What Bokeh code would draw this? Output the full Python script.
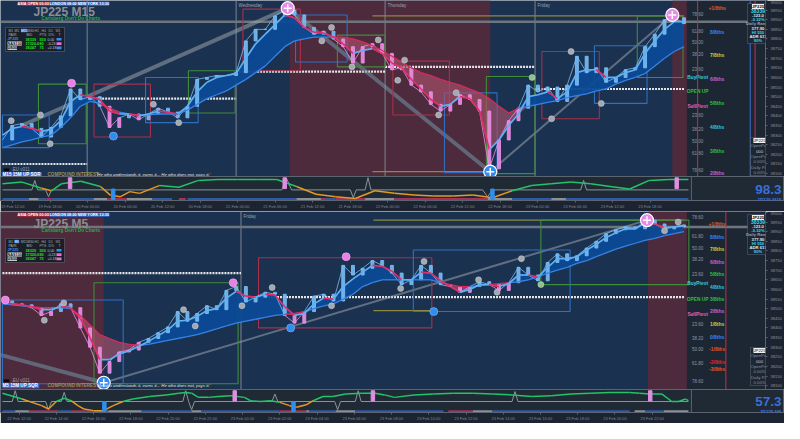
import numpy as np
from bokeh.plotting import figure
from bokeh.models import (Range1d, BoxAnnotation, Label, Span, FixedTicker,
                          SingleIntervalTicker, NumeralTickFormatter)
from bokeh.layouts import column
from bokeh.embed import file_html
from bokeh.resources import INLINE
from bokeh.core.properties import value

# ======================= DATA =======================
bars = list(range(71))

# ---- JP225 M15 (top panel) ----
top_close = [38275, 38350, 38360, 38335, 38290, 38340, 38400, 38540, 38485, 38500,
             38450, 38340, 38390, 38410, 38380, 38410, 38440, 38420, 38390, 38450,
             38590, 38600, 38610, 38610, 38625, 38790, 38850, 38850, 38920, 38950,
             38925, 38860, 38825, 38840, 38800, 38760, 38675, 38760, 38775, 38725,
             38640, 38650, 38560, 38525, 38460, 38425, 38460, 38510, 38485, 38425,
             38125, 38275, 38375, 38440, 38560, 38525, 38550, 38475, 38560, 38710,
             38625, 38650, 38575, 38600, 38640, 38650, 38760, 38825, 38900, 38910,
             38880]
top_fast = [38300, 38335, 38345, 38335, 38320, 38330, 38375, 38475, 38510, 38500,
            38485, 38425, 38410, 38410, 38400, 38410, 38425, 38420, 38410, 38450,
            38525, 38575, 38600, 38610, 38620, 38700, 38775, 38825, 38875, 38925,
            38910, 38860, 38835, 38830, 38810, 38775, 38725, 38740, 38750, 38725,
            38675, 38650, 38590, 38540, 38485, 38450, 38460, 38500, 38490, 38425,
            38225, 38275, 38350, 38410, 38500, 38510, 38525, 38490, 38525, 38625,
            38640, 38640, 38600, 38600, 38625, 38640, 38725, 38790, 38850, 38890,
            38890]
top_slow = [38235, 38250, 38265, 38275, 38290, 38300, 38340, 38390, 38450, 38475,
            38465, 38440, 38420, 38410, 38405, 38405, 38410, 38410, 38410, 38430,
            38460, 38490, 38510, 38530, 38560, 38590, 38625, 38660, 38710, 38760,
            38790, 38800, 38810, 38810, 38810, 38810, 38800, 38785, 38765, 38740,
            38710, 38680, 38650, 38625, 38610, 38590, 38575, 38560, 38540, 38520,
            38490, 38450, 38415, 38440, 38450, 38460, 38470, 38480, 38495, 38505,
            38515, 38530, 38540, 38565, 38585, 38600, 38620, 38660, 38700, 38735,
            38760]
top_sessions = [(29.5, 50.1), (68.8, 70.3)]
top_day_sep = [8.7, 24.0, 39.3, 54.7]
top_day_names = ["", "Wednesday", "Thursday", "Friday"]
top_pivot_x0 = [0.0, 8.7, 24.0, 39.3, 54.7]
top_pivot_x1 = [8.7, 24.0, 39.3, 54.7, 70.0]
top_pivot_y = [38150, 38490, 38630, 38655, 38540]
top_box_l = [0.0, 3.7, 9.4, 14.7, 19.1, 24.7, 30.1, 34.4, 40.1, 45.4, 49.7, 55.4, 60.8, 65.2]
top_box_r = [4.8, 8.6, 15.2, 20.1, 23.9, 30.6, 35.4, 39.3, 45.9, 50.8, 54.7, 61.3, 66.2, 69.9]
top_box_t = [38405, 38565, 38565, 38600, 38635, 38955, 38925, 38820, 38685, 38520, 38605, 38735, 38765, 38920]
top_box_b = [38235, 38255, 38290, 38365, 38415, 38635, 38680, 38655, 38405, 38105, 38100, 38385, 38465, 38600]
top_box_k = ["b", "g", "r", "b", "g", "r", "b", "g", "r", "b", "g", "r", "b", "g"]
top_tl_x0 = [2.0, 29.3, 50.1]
top_tl_y0 = [38350, 38960, 38110]
top_tl_x1 = [29.3, 50.1, 68.8]
top_tl_y1 = [38960, 38110, 38925]
top_olive_x0 = [38.0, 38.0]
top_olive_x1 = [70.0, 50.0]
top_olive_y = [38920, 38110]
top_price_line = 38890
top_piv_x = [0.9, 3.9, 4.9, 15.5, 18.1, 32.8, 33.8, 35.9, 38.6, 40.6, 41.3, 44.8, 46.6, 56.4, 58.4, 61.5]
top_piv_y = [38375, 38405, 38255, 38460, 38365, 38790, 38860, 38655, 38795, 38585, 38690, 38405, 38520, 38385, 38735, 38465]
top_pink_x = [7.1]
top_pink_y = [38570]
top_blue_x = [11.4]
top_blue_y = [38295]
top_green_x = [54.4]
top_green_y = [38600]
top_bigpink_x = [29.3, 68.8]
top_bigpink_y = [38960, 38925]
top_bigblue_x = [50.1]
top_bigblue_y = [38110]
top_fib_y = [38930, 38840, 38785, 38720, 38645, 38405, 38330, 38270, 38205, 38120]
top_fib_txt = ["78.60", "61.80", "50.00", "38.20", "23.60", "23.60", "38.20", "50.00", "61.80", "78.60"]
top_mm_y = [38960, 38835, 38715, 38590, 38465, 38340, 38215, 38102]
top_mm_txt = ["+1/8ths", "8/8ths", "7/8ths", "6/8ths", "5/8ths", "4/8ths", "3/8ths", "2/8ths"]
top_pv_y = [38600, 38525, 38450]
pv_txt = ["BuyPivot", "OPEN UP", "SellPivot"]

# ---- JP225 M5 (bottom panel) ----
bot_close = [38540, 38525, 38520, 38505, 38465, 38485, 38525, 38505, 38400, 38300,
             38165, 38225, 38275, 38285, 38325, 38345, 38375, 38405, 38485, 38435,
             38475, 38515, 38495, 38595, 38615, 38535, 38560, 38585, 38575, 38465,
             38425, 38485, 38565, 38575, 38540, 38725, 38675, 38710, 38750, 38725,
             38685, 38625, 38650, 38725, 38685, 38625, 38615, 38585, 38615, 38640,
             38625, 38595, 38635, 38715, 38675, 38645, 38740, 38785, 38750, 38775,
             38815, 38850, 38890, 38910, 38925, 38915, 38960, 38940, 38915, 38925,
             38935]
bot_fast = [38535, 38525, 38520, 38510, 38495, 38495, 38510, 38505, 38450, 38350,
            38235, 38235, 38265, 38280, 38305, 38330, 38360, 38390, 38435, 38440,
            38460, 38490, 38500, 38555, 38590, 38565, 38560, 38575, 38570, 38510,
            38465, 38475, 38525, 38555, 38550, 38615, 38655, 38690, 38725, 38720,
            38695, 38650, 38650, 38690, 38685, 38645, 38615, 38585, 38600, 38625,
            38625, 38615, 38630, 38675, 38675, 38665, 38715, 38760, 38760, 38770,
            38805, 38835, 38870, 38895, 38915, 38915, 38945, 38940, 38920, 38925,
            38930]
bot_slow = [38525, 38520, 38515, 38510, 38505, 38505, 38505, 38500, 38465, 38415,
            38365, 38345, 38325, 38315, 38310, 38315, 38325, 38335, 38345, 38355,
            38365, 38380, 38395, 38410, 38425, 38435, 38445, 38455, 38465, 38470,
            38475, 38485, 38500, 38515, 38525, 38550, 38575, 38615, 38635, 38650,
            38650, 38650, 38650, 38650, 38650, 38635, 38625, 38615, 38615, 38620,
            38625, 38630, 38635, 38640, 38650, 38665, 38685, 38700, 38715, 38735,
            38750, 38770, 38790, 38810, 38825, 38840, 38855, 38865, 38880, 38890,
            38900]
bot_sessions = [(-0.2, 10.4), (66.3, 70.3)]
bot_day_sep = [24.5]
bot_day_names = ["Friday"]
bot_pivot_x0 = [0.0, 24.5]
bot_pivot_x1 = [24.5, 70.0]
bot_pivot_y = [38685, 38560]
bot_box_l = [0.0, 9.4, 26.3, 42.2, 55.3]
bot_box_r = [12.4, 24.2, 44.1, 58.3, 70.5]
bot_box_t = [38545, 38635, 38765, 38805, 38960]
bot_box_b = [38110, 38110, 38400, 38485, 38625]
bot_box_k = ["b", "g", "r", "b", "g"]
bot_tl_x0 = [-0.2, 10.4]
bot_tl_y0 = [38260, 38115]
bot_tl_x1 = [10.4, 66.2]
bot_tl_y1 = [38115, 38960]
bot_olive_x0 = [38.1, 38.1]
bot_olive_x1 = [70.0, 44.2]
bot_olive_y = [38960, 38490]
bot_price_line = 38925
bot_piv_x = [4.3, 6.3, 18.6, 19.8, 24.6, 27.7, 33.8, 40.9, 43.3, 48.9, 50.8, 53.3, 68.0, 69.4]
bot_piv_y = [38440, 38530, 38495, 38410, 38515, 38610, 38515, 38605, 38745, 38650, 38585, 38760, 38905, 38950]
bot_pink_x = [0.3, 23.7, 35.3]
bot_pink_y = [38545, 38635, 38770]
bot_blue_x = [29.6, 44.3]
bot_blue_y = [38400, 38485]
bot_green_x = [55.3]
bot_green_y = [38625]
bot_bigpink_x = [66.2]
bot_bigpink_y = [38960]
bot_bigblue_x = [10.4]
bot_bigblue_y = [38115]
bot_fib_y = [38975, 38880, 38815, 38760, 38680, 38420, 38350, 38290, 38220, 38125]
bot_fib_txt = ["78.60", "61.80", "50.00", "38.20", "23.60", "23.60", "38.20", "50.00", "61.80", "78.60"]
bot_mm_y = [38940, 38870, 38810, 38740, 38680, 38615, 38550, 38490, 38420, 38355, 38290, 38225, 38185]
bot_mm_txt = ["+1/8ths", "8/8ths", "7/8ths", "6/8ths", "5/8ths", "4/8ths", "3/8ths",
              "2/8ths", "1/8ths", "0/8ths", "-1/8ths", "-2/8ths", "-3/8ths"]
bot_pv_y = [38630, 38550, 38470]

# ---- oscillators ----
top_osc_x = [0, 2, 4, 5, 6, 8, 10, 11, 12, 13, 14, 16, 18, 20, 22, 24, 26, 28, 30, 32,
             34, 36, 38, 40, 42, 44, 46, 48, 50, 52, 54, 56, 58, 60, 62, 64, 66, 68, 70]
top_osc_v = [72, 80, 52, 40, 72, 84, 60, 20, 12, 36, 28, 64, 56, 88, 92, 92, 92, 92, 60, 24,
             12, 4, 40, 28, 20, 16, 16, 20, 8, 40, 64, 72, 80, 72, 60, 48, 88, 92, 92]
top_sig_x = [0, 3.0, 3.3, 3.6, 4.4, 4.7, 5.0, 28.5, 29.0, 29.5, 35.5, 35.8, 36.1, 37.0,
             37.3, 37.6, 49.0, 49.5, 50.0, 59.0, 59.3, 59.6, 70.0]
top_sig_v = [44, 44, 88, 44, 44, 12, 44, 44, 96, 44, 44, 8, 44, 44, 100, 44, 44, 12, 44,
             44, 88, 44, 44]
top_spk_pink_x = [6.9, 28.8, 68.8]
top_spk_blue_x = [11.3, 50.0]
top_trend = [(0, 2.7, "b"), (2.7, 3.7, "g"), (3.7, 4.5, "b"), (4.5, 5.0, "r"), (5.0, 9.3, "b"),
             (9.3, 10.7, "g"), (10.7, 12.7, "r"), (12.7, 15.3, "g"), (15.3, 17.3, "b"),
             (18.0, 18.7, "r"), (18.9, 30.0, "b"), (30.0, 32.5, "g"), (32.5, 33.0, "r"),
             (33.0, 34.0, "b"), (34.0, 37.0, "r"), (37.0, 40.0, "g"), (40.0, 49.5, "r"),
             (49.5, 52.0, "g"), (52.0, 56.0, "b"), (56.0, 57.5, "g"), (57.5, 70.0, "b")]
top_big_value = "98.3"

bot_osc_x = [0, 2.0, 4.0, 4.7, 5.5, 6.3, 7.0, 7.7, 8.3, 9.3, 10.3, 11.3, 12.3, 13.3, 15.0,
             16.7, 18.0, 18.7, 19.3, 20.0, 21.0, 22.0, 23.3, 24.7, 25.3, 26.3, 27.3, 28.3,
             29.3, 30.0, 31.0, 31.7, 32.7, 33.7, 35.0, 36.7, 38.0, 39.0, 40.0, 42.0, 44.0,
             46.0, 48.0, 50.0, 52.0, 54.0, 56.0, 58.0, 60.0, 62.0, 64.0, 65.0, 66.0, 67.3,
             68.3, 69.0, 69.7, 70.0]
bot_osc_v = [88, 60, 28, 12, 48, 64, 52, 28, 12, 4, 4, 28, 48, 60, 72, 80, 88, 92, 88, 68,
             68, 72, 76, 68, 52, 48, 52, 44, 28, 20, 32, 52, 72, 72, 84, 88, 88, 80, 68, 80,
             84, 88, 88, 84, 80, 72, 76, 84, 88, 92, 92, 88, 84, 84, 48, 48, 60, 52]
bot_sig_x = [0, 1.0, 1.3, 1.6, 4.4, 4.7, 5.0, 6.0, 6.3, 6.6, 18.4, 18.7, 19.0, 19.3, 19.6,
             27.5, 27.8, 28.1, 33.9, 34.2, 34.5, 36.0, 36.3, 36.6, 52.0, 52.3, 52.6, 70.0]
bot_sig_v = [48, 48, 100, 48, 48, 8, 48, 48, 92, 48, 48, 100, 48, 8, 48, 48, 84, 48, 48, 8,
             48, 48, 100, 48, 48, 96, 48, 48]
bot_spk_pink_x = [23.7, 37.8, 66.1]
bot_spk_blue_x = [10.4, 29.7]
bot_trend = [(0, 1.3, "b"), (1.3, 2.7, "g"), (2.7, 5.7, "r"), (5.7, 7.0, "b"), (7.0, 10.8, "r"),
             (10.8, 14.2, "g"), (14.2, 19.3, "b"), (19.3, 20.3, "g"), (20.3, 28.3, "b"),
             (28.3, 31.0, "r"), (31.0, 31.3, "g"), (31.3, 34.0, "b"), (34.0, 36.0, "g"),
             (36.0, 45.0, "b"), (45.5, 48.0, "r"), (48.0, 50.0, "g"), (50.0, 64.0, "b"),
             (64.5, 65.6, "g"), (65.6, 67.5, "b"), (67.5, 70.0, "g")]
bot_big_value = "57.3"

# ---- dashboards ----
tf_names = ["M1", "M5", "M15", "M30", "H1", "H4", "D1", "W1"]
tbl_head = ["PAIR", "BID", "PTS", "D%", "T"]
tbl_pairs = ["JP225", "NAS100", "US30"]
tbl_bid = ["38339", "17320.0", "38247"]
tbl_pts = ["550", "80", "75"]
tbl_pct = ["0.00", "-0.23", "+0.18"]
top_tbl_bar = ["#2e8ff0", "#e46fd8", "#2e8ff0"]
bot_tbl_bar = ["#2e8ff0", "#e46fd8", "#e46fd8"]
sessions_txt = ["ASIA OPEN 00:00", "LONDON 08:00", "NEW YORK 13:30"]
info_lines = ["JP225", "38339", "-123.0", "-0.32%", "Daily Range", "377.90", "HI 550", "ADR 611", "90%"]
pos_lines = ["JP225", "OpenPos", "000", "OpenPos", "0.00%", "Daily P/L", "0.00%"]
top_days = ["19 Feb", "20 Feb", "21 Feb", "22 Feb", "23 Feb"]
bot_days = ["22 Feb", "23 Feb"]

# ======================= STYLE =======================
W = 784
BG = "#1a3150"
RED_BG = "#4e2a3d"
STRIP = "#1d2734"
AXIS_BG = "#1b2430"
OSC_BG = "#1f2a35"
UPFILL = "#0b4a95"
DNFILL = "#a2506a"
FAST_UP = "#5fb0f5"
FAST_DN = "#e0306a"
SLOW_UP = "#3683e6"
SLOW_DN = "#d42a5e"
CAN_UP = "#78bdf5"
CAN_DN = "#ea90e4"
BOXC = {"b": "#2f6fc2", "g": "#3f8c3a", "r": "#a8304a"}
TRC = {"b": "#2c5aa8", "g": "#8b8f96", "r": "#a8305a"}
MMC = {"+1/8ths": "#e8552a", "8/8ths": "#3a86e8", "7/8ths": "#d8c838", "6/8ths": "#d060c8",
       "5/8ths": "#30c040", "4/8ths": "#30c8d8", "3/8ths": "#30c040", "2/8ths": "#d060c8",
       "1/8ths": "#d8c838", "0/8ths": "#3a86e8", "-1/8ths": "#e8552a", "-2/8ths": "#e02828",
       "-3/8ths": "#e8552a"}
PVC = ["#38d0d8", "#30c030", "#e060c0"]
FONT = "Liberation Sans"


def lab(p, x, y, text, size=5, color="#c8ccd0", style="normal", align="left",
        baseline="middle", bg=None, xu="screen", font=FONT):
    kw = dict(x=x, y=y, x_units=xu, y_units="screen", text=text, text_font=font,
              text_font_size=f"{size}px", text_color=color, text_font_style=style,
              text_align=align, text_baseline=baseline)
    if bg is not None:
        kw["background_fill_color"] = bg
        kw["background_fill_alpha"] = 1.0
    p.add_layout(Label(**kw))


def sbox(p, l, r, t, b, fill, line="#8a929c", alpha=1.0):
    p.add_layout(BoxAnnotation(left=l, right=r, top=t, bottom=b, left_units="screen",
                               right_units="screen", top_units="screen", bottom_units="screen",
                               fill_color=fill, fill_alpha=alpha, line_color=line, line_width=1))


def make_main(h, ylo, yhi):
    p = figure(width=W, height=h, x_range=Range1d(-0.2, 78.37), y_range=Range1d(ylo, yhi),
               output_backend="svg", toolbar_location=None, x_axis_location=None,
               y_axis_location="right", min_border_left=0, min_border_top=0,
               min_border_bottom=0, min_border_right=14)
    p.frame_align = False
    p.background_fill_color = BG
    p.border_fill_color = AXIS_BG
    p.outline_line_color = None
    p.grid.visible = False
    ax = p.yaxis[0]
    ax.ticker = SingleIntervalTicker(interval=50)
    ax.formatter = NumeralTickFormatter(format="0")
    ax.major_label_text_font_size = "4px"
    ax.major_label_text_color = "#8d96a0"
    ax.axis_line_color = "#5b6470"
    ax.major_tick_line_color = "#5b6470"
    ax.major_tick_out = 2
    ax.major_tick_in = 0
    ax.minor_tick_line_color = None
    ax.major_label_standoff = 1
    return p


def draw_main(p, close, fast, slow, sessions, day_sep, day_names, pv_x0, pv_x1, pv_y,
              bl, br, bt, bb, bk, tl, olive, price_line, dots, fib_y, fib_txt, mm_y, mm_txt,
              pvl_y, vlines, htop):
    x = np.array(bars, dtype=float)
    c = np.array(close, dtype=float)
    f = np.array(fast, dtype=float)
    s = np.array(slow, dtype=float)
    up = f >= s
    for (l, r) in sessions:
        p.add_layout(BoxAnnotation(left=l, right=r, fill_color=RED_BG, fill_alpha=1,
                                   line_color=None, level="underlay"))
    p.add_layout(BoxAnnotation(left=70.3, fill_color=STRIP, fill_alpha=1, line_color=None,
                               level="underlay"))
    for d, name in zip(day_sep, day_names):
        p.add_layout(Span(location=d, dimension="height", line_color="#7d858e",
                          line_width=1, level="underlay"))
        if name:
            lab(p, d + 0.25, htop - 2, name, size=4.5, color="#9aa2ab", baseline="top", xu="data")
    for xv, col in vlines:
        p.add_layout(Span(location=xv, dimension="height", line_color=col, line_width=1))
    p.segment(x0=[-0.2], y0=[price_line], x1=[78.4], y1=[price_line],
              line_color="#6f757c", line_width=2.5)
    p.segment(x0=olive[0], y0=olive[2], x1=olive[1], y1=olive[2], line_color="#8c8a3e",
              line_width=1.2)
    p.segment(x0=pv_x0, y0=pv_y, x1=pv_x1, y1=pv_y, line_color="#e6e6e6", line_width=2.2,
              line_dash="2 1")
    p.segment(x0=tl[0], y0=tl[1], x1=tl[2], y1=tl[3], line_color=tl[4], line_width=tl[5],
              line_alpha=0.55)
    p.quad(left=bl, right=br, top=bt, bottom=bb, fill_color=None,
           line_color=[BOXC[k] for k in bk], line_width=1.1)
    p.varea(x=x, y1=s, y2=np.maximum(f, s), fill_color=UPFILL, fill_alpha=0.95)
    p.varea(x=x, y1=np.minimum(f, s), y2=s, fill_color=DNFILL, fill_alpha=0.7)
    o = c[:-1]
    cl = c[1:]
    ccol = [CAN_UP if up[i] else CAN_DN for i in range(1, len(c))]
    p.segment(x0=x[:-1], y0=c[:-1], x1=x[1:], y1=c[1:], line_color=ccol, line_width=1,
              line_alpha=0.8)
    p.vbar(x=x[1:], top=np.maximum(o, cl), bottom=np.minimum(o, cl), width=0.3,
           fill_color=ccol, line_color=ccol, fill_alpha=0.9, line_alpha=0.9)
    p.segment(x0=x[:-1], y0=s[:-1], x1=x[1:], y1=s[1:], line_width=1.3,
              line_color=[SLOW_UP if up[i + 1] else SLOW_DN for i in range(len(s) - 1)])
    p.segment(x0=x[:-1], y0=f[:-1], x1=x[1:], y1=f[1:], line_width=1.7,
              line_color=[FAST_UP if f[i + 1] >= f[i] else FAST_DN for i in range(len(f) - 1)])
    gx, gy, pkx, pky, blx, bly, grx, gry, bpx, bpy, bbx, bby = dots
    p.scatter(gx, gy, size=6, fill_color="#a3a9b0", line_color="#d0d4d8", line_width=0.5)
    p.scatter(grx, gry, size=6, fill_color="#8fc08f", line_color="#c8e0c8", line_width=0.5)
    p.scatter(pkx, pky, size=8, fill_color="#ea80e6", line_color="#f4c0f0", line_width=0.5)
    p.scatter(blx, bly, size=8, fill_color="#2f8cf0", line_color="#9cc8f8", line_width=0.5)
    p.scatter(bpx, bpy, size=13, fill_color="#e88ae8", line_color="white", line_width=1.2)
    p.scatter(bpx, bpy, size=8, marker="cross", line_color="white", line_width=1.5)
    p.scatter(bbx, bby, size=13, fill_color="#2f8cf0", line_color="white", line_width=1.2)
    p.scatter(bbx, bby, size=8, marker="cross", line_color="white", line_width=1.5)
    p.text(x=[71.4] * len(fib_y), y=fib_y, text=fib_txt,
           text_font=value(FONT), text_font_size="4.5px", text_color="#9098a2",
           text_align="center", text_baseline="middle")
    p.text(x=[73.4] * len(mm_y), y=mm_y, text=mm_txt, text_font=value(FONT),
           text_font_size="5px", text_color=[MMC[t] for t in mm_txt], text_font_style="bold",
           text_align="center", text_baseline="middle")
    p.text(x=[71.4] * 3, y=pvl_y, text=pv_txt, text_font=value(FONT), text_font_size="4.8px",
           text_color=PVC, text_font_style="bold", text_align="center", text_baseline="middle")


def header(p, htop, title, tf_index, bar_cols, drop=0.0):
    bx = [17, 49, 77]
    bcol = ["#a82838", "#2a6ad0", "#2a6ad0"]
    for x0, t, col in zip(bx, sessions_txt, bcol):
        lab(p, x0, htop - 3.3, t, size=3.8, color="white", style="bold", bg=col)
    lab(p, 33, htop - 11.0 - drop, title, size=12, color="#8a8e94", style="bold",
        baseline="middle")
    lab(p, 41, htop - 18.0 - drop, "Carlsberg Don't Do Charts", size=4.7, color="#27b043",
        style="bold", baseline="middle")
    tt = htop - 27
    sbox(p, 5, 64, tt, tt - 24, "#1a1f27", line="#9aa0a8")
    tfx = [8, 14, 20.5, 27, 34, 41, 48, 55]
    for i, (xx, t) in enumerate(zip(tfx, tf_names)):
        lab(p, xx, tt - 3, t, size=3.3, color="white" if i == tf_index else "#aab0b8",
            bg="#2a6ad0" if i == tf_index else None)
    hx = [8, 26, 39, 48, 58]
    for xx, t in zip(hx, tbl_head):
        lab(p, xx, tt - 7.2, t, size=3.5, color="#aab0b8")
    pair_bg = [None, "#e8e8e8", "#c8c8c8"]
    pair_col = ["#3a8ee8", "#101010", "#101010"]
    for r in range(3):
        yy = tt - 11.8 - r * 4.3
        lab(p, 7, yy, tbl_pairs[r], size=3.8, color=pair_col[r], style="bold", bg=pair_bg[r])
        lab(p, 25, yy, tbl_bid[r], size=3.8, color="#22e022", style="bold")
        lab(p, 39, yy, tbl_pts[r], size=3.8, color="#22e022", style="bold")
        lab(p, 47, yy, tbl_pct[r], size=3.5, color="#c0c4c8")
        sbox(p, 56, 61, yy + 1.3, yy - 1.3, bar_cols[r], line=None)


def footer(p, yb, tflabel):
    sbox(p, 3, 9, yb + 8.2, yb + 5.2, "#050505", line="#444")
    lab(p, 11, yb + 6.7, ".EU v011", size=4.5, color="#9aa2ab")
    lab(p, 2, yb + 1.8, tflabel + "  15M UP SQR", size=4.6, color="white", style="bold",
        bg="#3569d4")
    lab(p, 47, yb + 1.8, "COMPOUND INTEREST", size=4.6, color="#9a9050", style="bold")
    lab(p, 96, yb + 1.8, "'He who understands it, earns it... He who does not, pays it.'",
        size=4.3, color="#e8e8e8", style="italic")


def right_boxes(p, top1, top2):
    sbox(p, 747, 768, top1, top1 - 40, "#1d2633")
    cols = ["#101010", "#38d8f0", "#e8e8e8", "#38d8f0", "#9aa2ab", "#e8e8e8", "#38d8f0",
            "#e8e8e8", "#38d8f0"]
    for i, (t, col) in enumerate(zip(info_lines, cols)):
        lab(p, 757.5, top1 - 3 - i * 4.3, t, size=4.2 if i != 1 else 5, color=col,
            style="bold", align="center", bg="#f0f0f0" if i == 0 else None)
    sbox(p, 750, 768, top2, top2 - 38, "#1d2633")
    cols2 = ["#101010", "#8a929c", "#c8ccd0", "#8a929c", "#8a929c", "#8a929c", "#8a929c"]
    for i, (t, col) in enumerate(zip(pos_lines, cols2)):
        lab(p, 759, top2 - 3 - i * 5.3, t, size=4.3, color=col, align="center",
            bg="#f0f0f0" if i == 0 else None)


def make_osc(h, ticks, tick_labels):
    o = figure(width=W, height=h, x_range=Range1d(-0.2, 79.8), y_range=Range1d(-5, 106),
               output_backend="svg", toolbar_location=None, y_axis_location=None,
               x_axis_location="below", min_border_left=0, min_border_right=0,
               min_border_top=0, min_border_bottom=0)
    o.frame_align = False
    o.background_fill_color = OSC_BG
    o.border_fill_color = AXIS_BG
    o.outline_line_color = "#5b6470"
    o.grid.visible = False
    ax = o.xaxis[0]
    ax.ticker = FixedTicker(ticks=ticks)
    ax.major_label_overrides = {t: l for t, l in zip(ticks, tick_labels)}
    ax.major_label_text_font_size = "4px"
    ax.major_label_text_color = "#7f8894"
    ax.axis_line_color = "#5b6470"
    ax.major_tick_line_color = "#5b6470"
    ax.major_tick_out = 2
    ax.major_tick_in = 0
    ax.minor_tick_line_color = None
    ax.major_label_standoff = 1
    return o


def draw_osc(o, ox, ov, sx, sv, pk, bl, trend, big, name):
    o.add_layout(Span(location=70.3, dimension="height", line_color="#5b6470", line_width=1))
    o.quad(left=[t[0] for t in trend], right=[t[1] for t in trend], bottom=-4, top=6,
           fill_color=[TRC[t[2]] for t in trend], line_color=None)
    o.line(sx, sv, line_color="#8d949c", line_width=1)
    ov = np.array(ov, dtype=float)
    ox = np.array(ox, dtype=float)
    oc = ["#22c46a" if (ov[i] + ov[i + 1]) / 2 >= 48 else "#e39a22" for i in range(len(ov) - 1)]
    o.segment(x0=ox[:-1], y0=ov[:-1], x1=ox[1:], y1=ov[1:], line_color=oc, line_width=1.5)
    o.vbar(x=pk, top=100, bottom=50, width=0.35, color="#e08ee0")
    o.vbar(x=bl, top=48, bottom=0, width=0.35, color="#2e8ff0")
    lab(o, 781, 11.5, big, size=13.5, color="#3a6ed8", style="bold", align="right",
        baseline="middle")
    lab(o, 781, 0.5, name, size=4.8, color="#3a6ed8", style="bold", align="right",
        baseline="middle")


# ======================= BUILD =======================
top_ylo, top_yhi = 38085, 39000
bot_ylo, bot_yhi = 38080, 39005
H_TOP, H_TOSC, H_BOT, H_BOSC = 176, 35, 178, 34

pt = make_main(H_TOP, top_ylo, top_yhi)
draw_main(pt, top_close, top_fast, top_slow, top_sessions, top_day_sep, top_day_names,
          top_pivot_x0, top_pivot_x1, top_pivot_y, top_box_l, top_box_r, top_box_t, top_box_b,
          top_box_k,
          (top_tl_x0, top_tl_y0, top_tl_x1, top_tl_y1, ["#9aa0a8", "#6f96a8", "#9aa0a8"], [4, 4, 2]),
          (top_olive_x0, top_olive_x1, top_olive_y), top_price_line,
          (top_piv_x, top_piv_y, top_pink_x, top_pink_y, top_blue_x, top_blue_y, top_green_x,
           top_green_y, top_bigpink_x, top_bigpink_y, top_bigblue_x, top_bigblue_y),
          top_fib_y, top_fib_txt, top_mm_y, top_mm_txt, top_pv_y,
          [(71.4, "#c0304a"), (76.8, "#3a70d0"), (77.3, "#c0304a")], H_TOP)
header(pt, H_TOP, "JP225 M15", 2, top_tbl_bar)
footer(pt, 0, "M15")
right_boxes(pt, 173, 39)

tt_pos, tt_lab = [], []
for d, day in enumerate(top_days):
    for hh in (0, 6, 12, 18):
        pos = -6.6 + d * 15.3 + hh / 24 * 15.3
        if 0.5 <= pos <= 69.5:
            tt_pos.append(round(pos, 2))
            tt_lab.append(f"{day} {hh:02d}:00")
ot = make_osc(H_TOSC, tt_pos, tt_lab)
draw_osc(ot, top_osc_x, top_osc_v, top_sig_x, top_sig_v, top_spk_pink_x, top_spk_blue_x,
         top_trend, top_big_value, "JP225 M15")

pb = make_main(H_BOT, bot_ylo, bot_yhi)
draw_main(pb, bot_close, bot_fast, bot_slow, bot_sessions, bot_day_sep, bot_day_names,
          bot_pivot_x0, bot_pivot_x1, bot_pivot_y, bot_box_l, bot_box_r, bot_box_t, bot_box_b,
          bot_box_k,
          (bot_tl_x0, bot_tl_y0, bot_tl_x1, bot_tl_y1, ["#6f96a8", "#9aa0a8"], [4, 2]),
          (bot_olive_x0, bot_olive_x1, bot_olive_y), bot_price_line,
          (bot_piv_x, bot_piv_y, bot_pink_x, bot_pink_y, bot_blue_x, bot_blue_y, bot_green_x,
           bot_green_y, bot_bigpink_x, bot_bigpink_y, bot_bigblue_x, bot_bigblue_y),
          bot_fib_y, bot_fib_txt, bot_mm_y, bot_mm_txt, bot_pv_y,
          [(74.3, "#c0304a")], H_BOT)
header(pb, H_BOT, "JP225 M5", 1, bot_tbl_bar, drop=1.0)
footer(pb, 2, "M5")
right_boxes(pb, 175, 42)

bt_pos, bt_lab = [], []
for d, day in enumerate(bot_days):
    for hh in range(0, 24, 2):
        pos = -21.1 + d * 45.6 + hh * 1.9
        if 0.5 <= pos <= 69.5:
            bt_pos.append(round(pos, 2))
            bt_lab.append(f"{day} {hh:02d}:00")
ob = make_osc(H_BOSC, bt_pos, bt_lab)
draw_osc(ob, bot_osc_x, bot_osc_v, bot_sig_x, bot_sig_v, bot_spk_pink_x, bot_spk_blue_x,
         bot_trend, bot_big_value, "JP225 M5")

layout = column(pt, ot, pb, ob, spacing=0)
open("out.html", "w").write(file_html(layout, INLINE))
